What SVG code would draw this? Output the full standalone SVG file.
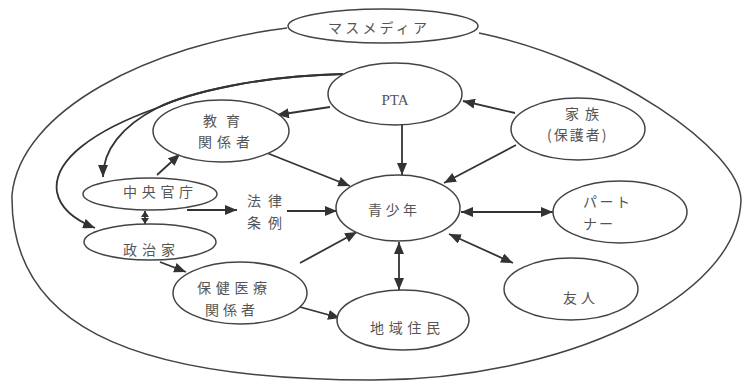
<svg xmlns="http://www.w3.org/2000/svg" width="744" height="382" viewBox="0 0 744 382">
<style>
.n{fill:#fff;stroke:#444;stroke-width:1.5}
.o{fill:none;stroke:#444;stroke-width:1.5}
.c{fill:none;stroke:#333;stroke-width:1.8}
.t{font-family:"Noto Sans CJK JP",sans-serif;font-size:14px;fill:#555}
</style>
<defs>
<marker id="a" markerUnits="userSpaceOnUse" markerWidth="12" markerHeight="10" refX="12" refY="5" orient="auto-start-reverse"><path d="M0,0 L12,5 L0,10 z" fill="#333"/></marker>
<marker id="s" markerUnits="userSpaceOnUse" markerWidth="6" markerHeight="8" refX="6" refY="4" orient="auto-start-reverse"><path d="M0,0 L6,4 L0,8 z" fill="#333"/></marker>
</defs>
<rect width="744" height="382" fill="#fff"/>
<path class="o" d="M287,28 C150,45 20,110 12,195 C10,320 120,380 372,380 C560,380 738,300 741,200 C740,150 610,60 479,33"/>
<g id="massmedia"><ellipse class="n" cx="383" cy="26" rx="95" ry="17"/><text class="t" x="328" y="33" letter-spacing="3.2">マスメディア</text></g>
<g id="connectors">
<path class="c" d="M343,74 C260,76 190,92 157,108 C122,126 103,150 103,177" marker-end="url(#a)"/>
<path class="c" d="M343,74 C260,76 190,92 157,108 C95,130 52,160 57,192 C60,208 75,220 95,228" marker-end="url(#a)"/>
<path class="c" d="M402,125 L402,175" marker-end="url(#a)"/>
<path class="c" d="M515,113 L463,101" marker-end="url(#a)"/>
<path class="c" d="M516,145 L444,183" marker-end="url(#a)"/>
<path class="c" d="M330,107 L277,115" marker-end="url(#a)"/>
<path class="c" d="M267,153 L350,186" marker-end="url(#a)"/>
<path class="c" d="M157,175 L180,154" marker-end="url(#a)"/>
<path class="c" d="M187,210 L237,210" marker-end="url(#a)"/>
<path class="c" d="M287,211 L337,211" marker-end="url(#a)"/>
<path class="c" d="M145,211 L145,224" marker-start="url(#s)" marker-end="url(#s)"/>
<path class="c" d="M160,262 L186,272" marker-end="url(#a)"/>
<path class="c" d="M300,263 L357,232" marker-end="url(#a)"/>
<path class="c" d="M300,307 L340,318" marker-end="url(#a)"/>
<path class="c" d="M399,242 L399,290" marker-start="url(#a)" marker-end="url(#a)"/>
<path class="c" d="M461,212 L553,212" marker-start="url(#a)" marker-end="url(#a)"/>
<path class="c" d="M449,234 L513,263" marker-start="url(#a)" marker-end="url(#a)"/>
</g>
<g id="pta"><ellipse class="n" cx="395" cy="94" rx="67" ry="31"/><text x="395" y="105" text-anchor="middle" font-family="Liberation Serif,serif" font-size="15" fill="#555">PTA</text></g>
<g id="family"><ellipse class="n" cx="578" cy="129" rx="67" ry="31"/><text class="t" x="565" y="119" letter-spacing="6">家族</text><text class="t" x="547" y="140" letter-spacing="2">(保護者)</text></g>
<g id="education"><ellipse class="n" cx="221" cy="131" rx="68" ry="31"/><text class="t" x="203" y="126" letter-spacing="9">教育</text><text class="t" x="198" y="147" letter-spacing="5">関係者</text></g>
<g id="ministry"><ellipse class="n" cx="150" cy="194" rx="67" ry="16"/><text class="t" x="123" y="197" letter-spacing="4.7">中央官庁</text></g>
<g id="politician"><ellipse class="n" cx="150" cy="242" rx="66" ry="18"/><text class="t" x="123" y="255" letter-spacing="5">政治家</text></g>
<g id="law"><text class="t" x="247" y="206" letter-spacing="7">法律</text><text class="t" x="247" y="228" letter-spacing="7">条例</text></g>
<g id="youth"><ellipse class="n" cx="398" cy="208" rx="62" ry="33"/><text class="t" x="368" y="215" letter-spacing="3.5">青少年</text></g>
<g id="health"><ellipse class="n" cx="240" cy="293" rx="67" ry="31"/><text class="t" x="197" y="293" letter-spacing="4.7">保健医療</text><text class="t" x="205" y="315" letter-spacing="4">関係者</text></g>
<g id="residents"><ellipse class="n" cx="403" cy="320" rx="66" ry="30"/><text class="t" x="370" y="333" letter-spacing="4.7">地域住民</text></g>
<g id="partner"><ellipse class="n" cx="620" cy="212" rx="67" ry="31"/><text class="t" x="583" y="207" letter-spacing="2.5">パート</text><text class="t" x="583" y="229" letter-spacing="2">ナー</text></g>
<g id="friend"><ellipse class="n" cx="571" cy="289" rx="67" ry="31"/><text class="t" x="563" y="303" letter-spacing="4">友人</text></g>
</svg>
